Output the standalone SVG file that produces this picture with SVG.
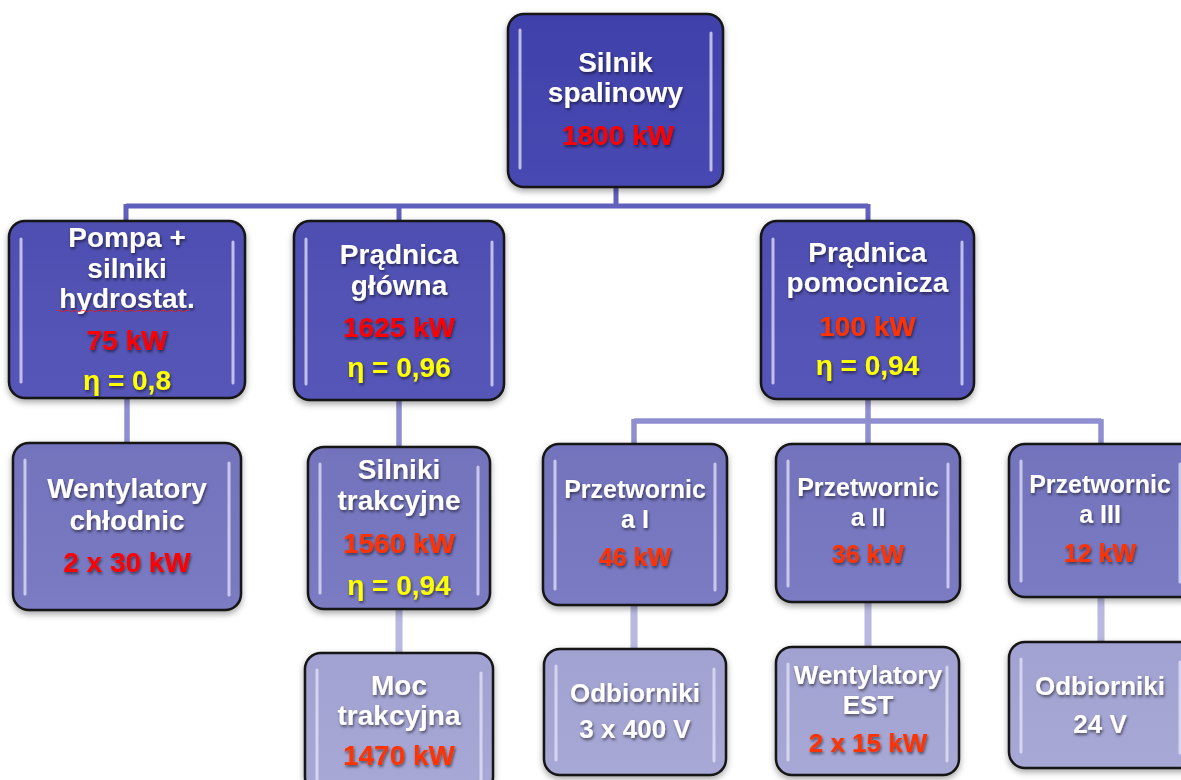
<svg xmlns="http://www.w3.org/2000/svg" width="1181" height="780" viewBox="0 0 1181 780">
<defs>
<filter id="ns" x="-10%" y="-10%" width="120%" height="125%"><feDropShadow dx="0" dy="3" stdDeviation="3" flood-color="#000" flood-opacity="0.35"/></filter>
<filter id="ts" x="-10%" y="-20%" width="120%" height="150%"><feDropShadow dx="1" dy="2" stdDeviation="1.5" flood-color="#000" flood-opacity="0.55"/></filter>
<linearGradient id="g0" x1="0" y1="0" x2="0" y2="1"><stop offset="0" stop-color="#4141ab"/><stop offset="1" stop-color="#4848b2"/></linearGradient>
<linearGradient id="g1" x1="0" y1="0" x2="0" y2="1"><stop offset="0" stop-color="#4f4fb2"/><stop offset="1" stop-color="#5656b8"/></linearGradient>
<linearGradient id="g2" x1="0" y1="0" x2="0" y2="1"><stop offset="0" stop-color="#7373bd"/><stop offset="1" stop-color="#7b7bc3"/></linearGradient>
<linearGradient id="g3" x1="0" y1="0" x2="0" y2="1"><stop offset="0" stop-color="#a2a2d2"/><stop offset="1" stop-color="#a8a8d6"/></linearGradient>
</defs>
<style>
.box{stroke:#141414;stroke-width:2.5;filter:url(#ns)}
.l0{fill:url(#g0)}.l1{fill:url(#g1)}.l2{fill:url(#g2)}.l3{fill:url(#g3)}
.hl{stroke:#e4e4f8;stroke-opacity:0.75;stroke-width:3;stroke-linecap:round;fill:none}
text{font-family:"Liberation Sans",Arial,sans-serif;font-weight:bold;text-anchor:middle;fill:#fff;filter:url(#ts)}
.t28{font-size:28px}.t26{font-size:26px}.t25{font-size:25px}
.red{fill:#ff0000}.org{fill:#ff3300}.yel{fill:#ffff00}
.c1{stroke:#6060bd;stroke-width:5;fill:none}
.c2{stroke:#8e8ed0;stroke-width:5.5;fill:none}
.c3{stroke:#b8b8e0;stroke-width:7;fill:none}
</style>
<rect width="1181" height="780" fill="#fff"/>
<g id="connectors">
<path class="c1" d="M616 187V206M126 206H868M126 204V222M399 204V222M868 204V222"/>
<path class="c2" d="M127 398V444M399 400V448M868 399V421M634 421H1101M634 419V445M868 419V445M1101 419V445"/>
<path class="c3" d="M399 609V654M634 605V650M868 602V648M1101 597V643"/>
</g>
<g id="n-silnik-spalinowy">
<rect class="box l0" x="508" y="14" width="215" height="173" rx="16"/>
<path class="hl" d="M520 30V168M711 33V170"/>
<text class="t28" x="615.5" y="72">Silnik</text>
<text class="t28" x="615.5" y="102">spalinowy</text>
<text class="t28 red" x="618" y="145">1800 kW</text>
</g>
<g id="n-pompa">
<rect class="box l1" x="9" y="221" width="236" height="177" rx="16"/>
<path class="hl" d="M21 239V382M233 242V383"/>
<text class="t28" x="127" y="247">Pompa +</text>
<text class="t28" x="127" y="278">silniki</text>
<text class="t28" x="127" y="308">hydrostat.</text>
<path d="M57 311q2 -1.5 4 0t4 0t4 0t4 0t4 0t4 0t4 0t4 0t4 0t4 0t4 0t4 0t4 0t4 0t4 0t4 0t4 0t4 0t4 0t4 0t4 0t4 0t4 0t4 0t4 0t4 0t4 0t4 0t4 0t4 0t4 0t4 0t4 0" stroke="#e02020" stroke-width="0.8" fill="none"/>
<text class="t28 red" x="127" y="350">75 kW</text>
<text class="t28 yel" x="127" y="390">η = 0,8</text>
</g>
<g id="n-pradnica-glowna">
<rect class="box l1" x="294" y="221" width="210" height="179" rx="16"/>
<path class="hl" d="M306 239V384M492 242V385"/>
<text class="t28" x="399" y="264">Prądnica</text>
<text class="t28" x="399" y="295">główna</text>
<text class="t28 red" x="399" y="337">1625 kW</text>
<text class="t28 yel" x="399" y="377">η = 0,96</text>
</g>
<g id="n-pradnica-pomocnicza">
<rect class="box l1" x="761" y="221" width="213" height="178" rx="16"/>
<path class="hl" d="M773 239V383M962 242V384"/>
<text class="t28" x="867.5" y="262">Prądnica</text>
<text class="t28" x="867.5" y="292">pomocnicza</text>
<text class="t28 org" x="867.5" y="336">100 kW</text>
<text class="t28 yel" x="867.5" y="375">η = 0,94</text>
</g>
<g id="n-wentylatory-chlodnic">
<rect class="box l2" x="13" y="443" width="228" height="167" rx="16"/>
<path class="hl" d="M25 460V594M229 463V595"/>
<text class="t28" x="127" y="498">Wentylatory</text>
<text class="t28" x="127" y="530">chłodnic</text>
<text class="t28 red" x="127" y="572">2 x 30 kW</text>
</g>
<g id="n-silniki-trakcyjne">
<rect class="box l2" x="308" y="447" width="182" height="162" rx="16"/>
<path class="hl" d="M320 464V593M478 467V594"/>
<text class="t28" x="399" y="479">Silniki</text>
<text class="t28" x="399" y="510">trakcyjne</text>
<text class="t28 org" x="399" y="553">1560 kW</text>
<text class="t28 yel" x="399" y="595">η = 0,94</text>
</g>
<g id="n-moc-trakcyjna">
<rect class="box l3" x="305" y="653" width="188" height="140" rx="16"/>
<path class="hl" d="M317 670V790M481 673V790"/>
<text class="t28" x="399" y="695">Moc</text>
<text class="t28" x="399" y="725">trakcyjna</text>
<text class="t28 org" x="399" y="765">1470 kW</text>
</g>
<g id="n-przetwornica-1">
<rect class="box l2" x="543" y="444" width="184" height="161" rx="16"/>
<path class="hl" d="M555 461V589M715 464V590"/>
<text class="t25" x="635" y="498">Przetwornic</text>
<text class="t25" x="635" y="528">a I</text>
<text class="t25 org" x="635" y="566">46 kW</text>
</g>
<g id="n-odbiorniki-400">
<rect class="box l3" x="544" y="649" width="182" height="126" rx="16"/>
<path class="hl" d="M556 666V760M714 669V761"/>
<text class="t26" x="635" y="702">Odbiorniki</text>
<text class="t26" x="635" y="738">3 x 400 V</text>
</g>
<g id="n-przetwornica-2">
<rect class="box l2" x="776" y="444" width="184" height="158" rx="16"/>
<path class="hl" d="M788 461V586M948 464V587"/>
<text class="t25" x="868" y="496">Przetwornic</text>
<text class="t25" x="868" y="526">a II</text>
<text class="t25 org" x="868" y="563">36 kW</text>
</g>
<g id="n-wentylatory-est">
<rect class="box l3" x="776" y="647" width="183" height="128" rx="16"/>
<path class="hl" d="M788 664V760M947 667V761"/>
<text class="t26" x="868" y="684">Wentylatory</text>
<text class="t26" x="868" y="714">EST</text>
<text class="t26 org" x="868" y="752">2 x 15 kW</text>
</g>
<g id="n-przetwornica-3">
<rect class="box l2" x="1009" y="444" width="190" height="153" rx="16"/>
<path class="hl" d="M1021 461V581M1180 464V582"/>
<text class="t25" x="1100" y="493">Przetwornic</text>
<text class="t25" x="1100" y="523">a III</text>
<text class="t25 org" x="1100" y="562">12 kW</text>
</g>
<g id="n-odbiorniki-24">
<rect class="box l3" x="1009" y="642" width="190" height="126" rx="16"/>
<path class="hl" d="M1021 659V752M1180 662V753"/>
<text class="t26" x="1100" y="695">Odbiorniki</text>
<text class="t26" x="1100" y="733">24 V</text>
</g>
</svg>
